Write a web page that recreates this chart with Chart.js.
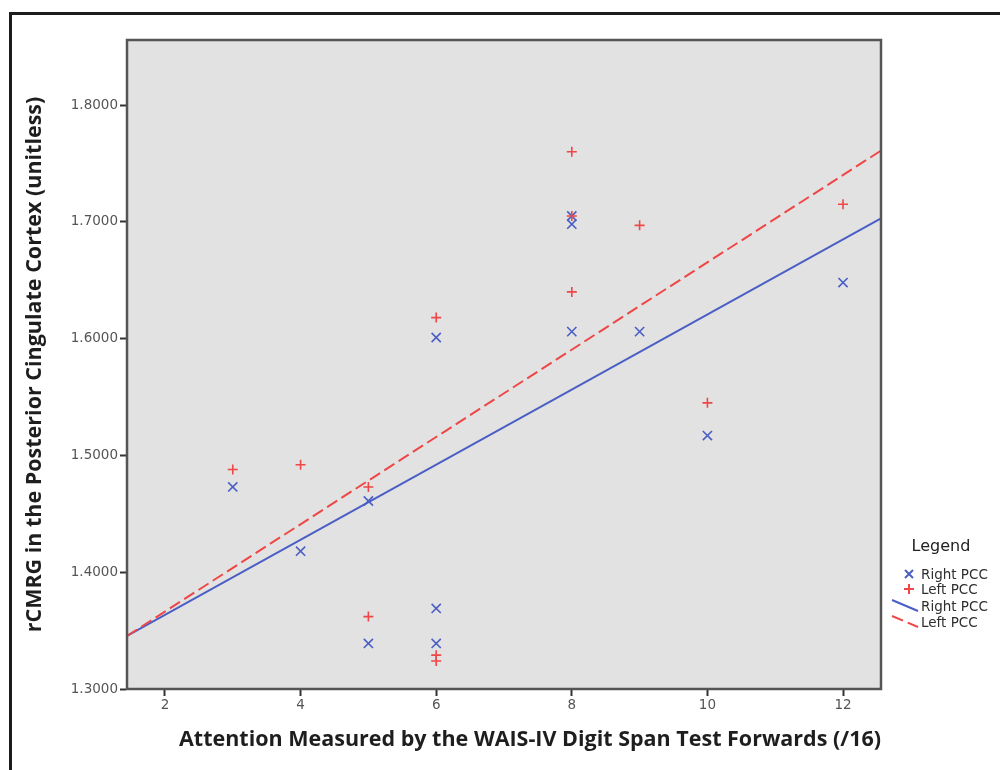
<!DOCTYPE html>
<html>
<head>
<meta charset="utf-8">
<script src="https://cdn.jsdelivr.net/npm/chart.js@4/dist/chart.umd.min.js"></script>
<style>
  html, body { margin: 0; padding: 0; background: #fff; }
  #wrap { position: relative; width: 1000px; height: 770px; overflow: hidden; }
  #frame { position: absolute; left: 9px; top: 12px; width: 1100px; height: 900px; border: 3px solid #1c1c1c; box-sizing: border-box; }
  canvas { position: absolute; left: 0; top: 0; }
</style>
</head>
<body>
<div id="wrap">
  <div id="frame"></div>
  <canvas id="c" width="1000" height="770"></canvas>
</div>
<script>
// ---- data ----
const rightX = [3, 4, 5, 5, 6, 6, 6, 8, 8, 8, 9, 10, 12];
const rightY = [1.473, 1.418, 1.461, 1.339, 1.369, 1.339, 1.601, 1.705, 1.698, 1.606, 1.606, 1.517, 1.648];
const leftX  = [3, 4, 5, 5, 6, 6, 6, 8, 8, 8, 9, 10, 12];
const leftY  = [1.488, 1.492, 1.473, 1.362, 1.618, 1.329, 1.324, 1.760, 1.705, 1.640, 1.697, 1.545, 1.715];
// fit line endpoints (read at the plot edges)
const fitX = [1.44, 12.56];
const rightFitY = [1.3454, 1.7030];
const leftFitY  = [1.3454, 1.7610];
const xTicks = [2, 4, 6, 8, 10, 12];
const yTicks = [1.3, 1.4, 1.5, 1.6, 1.7, 1.8];
const xRange = [1.44, 12.56];
const yRange = [1.3, 1.8557];
const seriesNames = ['Right PCC', 'Left PCC', 'Right PCC', 'Left PCC'];

const BLUE = '#4a5ec4';
const RED = '#ef4646';

const pts = (xs, ys) => xs.map((x, i) => ({x: x, y: ys[i]}));

const plotBg = {
  id: 'plotBg',
  beforeDatasetsDraw(chart) {
    const {ctx, chartArea: a} = chart;
    ctx.save();
    ctx.fillStyle = '#e2e2e2';
    ctx.fillRect(a.left, a.top, a.right - a.left, a.bottom - a.top);
    ctx.restore();
  },
  afterDraw(chart) {
    const {ctx, chartArea: a} = chart;
    ctx.save();
    ctx.strokeStyle = '#555';
    ctx.lineWidth = 2.5;
    ctx.strokeRect(a.left, a.top, a.right - a.left, a.bottom - a.top);
    ctx.restore();
  }
};

const customLegend = {
  id: 'customLegend',
  afterDraw(chart) {
    const ctx = chart.ctx;
    const ds = chart.data.datasets;
    ctx.save();
    ctx.fillStyle = '#222';
    ctx.font = '16px "DejaVu Sans"';
    ctx.textAlign = 'center';
    ctx.textBaseline = 'middle';
    ctx.fillText('Legend', 941, 547);
    ctx.font = '13.5px "DejaVu Sans"';
    ctx.textAlign = 'left';
    const rows = [574, 589, 606, 622];
    rows.forEach((y, i) => {
      const d = ds[i];
      ctx.strokeStyle = d.borderColor;
      ctx.lineWidth = 2;
      if (i === 0) {
        ctx.beginPath();
        ctx.moveTo(905, y - 4); ctx.lineTo(913, y + 4);
        ctx.moveTo(913, y - 4); ctx.lineTo(905, y + 4);
        ctx.stroke();
      } else if (i === 1) {
        ctx.beginPath();
        ctx.moveTo(904, y); ctx.lineTo(914, y);
        ctx.moveTo(909, y - 5); ctx.lineTo(909, y + 5);
        ctx.stroke();
      } else {
        ctx.setLineDash(d.borderDash || []);
        ctx.beginPath();
        ctx.moveTo(892, y - 6); ctx.lineTo(918, y + 5);
        ctx.stroke();
        ctx.setLineDash([]);
      }
      ctx.fillStyle = '#2e2e2e';
      ctx.fillText(d.label, 921, y + 1);
    });
    ctx.restore();
  }
};

new Chart(document.getElementById('c'), {
  type: 'scatter',
  data: {
    datasets: [
      { label: seriesNames[0], data: pts(rightX, rightY), pointStyle: 'crossRot', pointRadius: 6.5,
        borderColor: BLUE, backgroundColor: BLUE, pointBorderWidth: 1.6, showLine: false, order: 2 },
      { label: seriesNames[1], data: pts(leftX, leftY), pointStyle: 'cross', pointRadius: 5,
        borderColor: RED, backgroundColor: RED, pointBorderWidth: 1.6, showLine: false, order: 1 },
      { label: seriesNames[2], data: pts(fitX, rightFitY), showLine: true, pointRadius: 0,
        borderColor: BLUE, borderWidth: 2, order: 3 },
      { label: seriesNames[3], data: pts(fitX, leftFitY), showLine: true, pointRadius: 0,
        borderColor: RED, borderWidth: 2, borderDash: [12, 5], order: 0 }
    ]
  },
  options: {
    responsive: false,
    animation: false,
    events: [],
    layout: { padding: { left: 10, right: 119, top: 40, bottom: 10 } },
    plugins: { legend: { display: false }, tooltip: { enabled: false } },
    scales: {
      x: {
        type: 'linear',
        min: xRange[0], max: xRange[1],
        afterBuildTicks(s) { s.ticks = xTicks.map(v => ({value: v})); },
        afterFit(s) { s.height = 770 - 689 - 10; },
        grid: { drawOnChartArea: false, drawTicks: true, tickLength: 7, tickColor: '#333', tickWidth: 2 },
        border: { display: true, color: '#333', width: 2 },
        ticks: { color: '#555', font: { family: 'DejaVu Sans', size: 13.5 }, padding: 1 },
        title: { display: true, text: 'Attention Measured by the WAIS-IV Digit Span Test Forwards (/16)',
          align: 'end', color: '#1e1e1e', font: { family: 'Open Sans', weight: 'bold', size: 21.5 },
          padding: { top: 0, bottom: 7 } }
      },
      y: {
        type: 'linear',
        min: yRange[0], max: yRange[1],
        afterBuildTicks(s) { s.ticks = yTicks.map(v => ({value: v})); },
        afterFit(s) { s.width = 127 - 10; },
        grid: { drawOnChartArea: false, drawTicks: true, tickLength: 7, tickColor: '#333', tickWidth: 2 },
        border: { display: true, color: '#333', width: 2 },
        ticks: { color: '#555', font: { family: 'DejaVu Sans', size: 13.5 }, padding: 2,
          callback: v => Number(v).toFixed(4) },
        title: { display: true, text: 'rCMRG in the Posterior Cingulate Cortex (unitless)',
          align: 'center', color: '#1e1e1e', font: { family: 'Open Sans', weight: 'bold', size: 21.5 },
          padding: { top: 12, bottom: 0 } }
      }
    }
  },
  plugins: [plotBg, customLegend]
});
</script>
</body>
</html>
